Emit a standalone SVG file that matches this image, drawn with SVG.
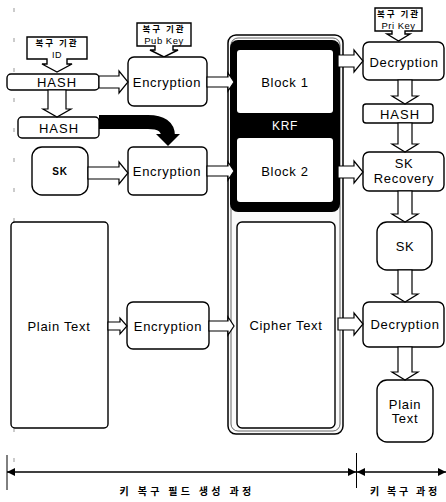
<svg xmlns="http://www.w3.org/2000/svg" width="446" height="502" viewBox="0 0 446 502">
<defs>
<style>
.box{fill:#fff;stroke:#000;stroke-width:1.4}
.arr{fill:#fff;stroke:#000;stroke-width:1.2;stroke-linejoin:miter}
.t{font-family:"Liberation Sans","DejaVu Sans",sans-serif;font-size:13px;fill:#000;text-anchor:middle;letter-spacing:0.7px}
.k{font-family:"Noto Sans CJK KR","Liberation Sans",sans-serif;font-size:8.5px;font-weight:bold;fill:#000;text-anchor:middle;letter-spacing:2px}
.s{font-family:"Liberation Sans","DejaVu Sans",sans-serif;font-size:9.5px;fill:#000;text-anchor:middle;letter-spacing:0.5px}
.kb{font-family:"Noto Sans CJK KR","Liberation Sans",sans-serif;font-size:10px;font-weight:bold;fill:#000;text-anchor:middle}
.dash{stroke:#999;stroke-width:1;stroke-dasharray:4 26;fill:none}
</style>
<marker id="ah" viewBox="0 0 10 10" refX="10" refY="5" markerWidth="8" markerHeight="8" markerUnits="userSpaceOnUse" orient="auto-start-reverse">
<path d="M0,0 L10,5 L0,10 Z" fill="#000"/>
</marker>
</defs>
<rect width="446" height="502" fill="#fff"/>

<!-- faint guide lines -->
<line class="dash" x1="14" y1="8" x2="14" y2="470"/>

<!-- KRF column -->
<g id="krf">
<rect x="228" y="35" width="115" height="399" rx="8" fill="#fafafa" stroke="#000" stroke-width="1.5"/>
<rect x="231" y="38" width="109" height="393" rx="7" fill="none" stroke="#444" stroke-width="0.8"/>
<rect x="230" y="40" width="110" height="172" rx="8" fill="#000"/>
<g id="block1"><rect x="237" y="50" width="96" height="63" rx="3" fill="#fff"/>
<text class="t" x="285" y="87">Block 1</text></g>
<text class="t" x="285" y="130" style="fill:#fff;font-size:12px">KRF</text>
<g id="block2"><rect x="237" y="138" width="96" height="64" rx="3" fill="#fff"/>
<text class="t" x="285" y="176">Block 2</text></g>
<g id="cipher"><rect class="box" x="237" y="222" width="98" height="206" rx="5" stroke-width="1.5"/>
<text class="t" x="286" y="330">Cipher Text</text></g>
</g>

<!-- callouts -->
<g id="callout-id">
<path class="box" d="M27,37 H87 V59 H67 V64 H72 L57,72 L42,64 H47 V59 H27 Z"/>
<text class="k" x="57" y="46">복구 기관</text>
<text class="s" x="57" y="57.5" style="font-size:9px">ID</text>
</g>
<g id="callout-pub">
<path class="box" d="M137,23 H191 V46 H173 V50 H178 L164,57 L150,50 H155 V46 H137 Z"/>
<text class="k" x="164" y="32">복구 기관</text>
<text class="s" x="164" y="44">Pub Key</text>
</g>
<g id="callout-pri">
<path class="box" d="M375,8 H422 V31 H405 V34 H410 L398.5,41 L387,34 H392 V31 H375 Z"/>
<text class="k" x="398.5" y="17">복구 기관</text>
<text class="s" x="398.5" y="29">Pri Key</text>
</g>

<!-- nodes -->
<g id="hash1"><rect class="box" x="7" y="74" width="92" height="16" rx="4"/>
<text class="t" x="57" y="86.5" style="letter-spacing:1px">HASH</text></g>
<g id="hash2"><rect class="box" x="18" y="117" width="81" height="21" rx="4"/>
<text class="t" x="59" y="132.5" style="letter-spacing:1px">HASH</text></g>
<g id="sk1"><rect class="box" x="32" y="147" width="56" height="48" rx="10"/>
<text class="t" x="60" y="175" style="font-size:10px;font-weight:bold">SK</text></g>
<g id="enc1"><rect class="box" x="128" y="57" width="79" height="49" rx="6"/>
<text class="t" x="167" y="86.5">Encryption</text></g>
<g id="enc2"><rect class="box" x="128" y="147" width="79" height="48" rx="5"/>
<text class="t" x="167" y="175.5">Encryption</text></g>
<g id="plain1"><rect class="box" x="11" y="222" width="97" height="206" rx="4"/>
<text class="t" x="59" y="330.5">Plain Text</text></g>
<g id="enc3"><rect class="box" x="127" y="302" width="82" height="47" rx="6"/>
<text class="t" x="168" y="330.5">Encryption</text></g>
<g id="dec1"><rect class="box" x="363" y="42" width="81" height="38" rx="6"/>
<text class="t" x="404" y="66.5">Decryption</text></g>
<g id="hash3"><rect class="box" x="363" y="104" width="70" height="19" rx="3"/>
<text class="t" x="400" y="118.5" style="letter-spacing:1px">HASH</text></g>
<g id="skrec"><rect class="box" x="363" y="152" width="81" height="39" rx="6"/>
<text class="t" x="404" y="168">SK</text>
<text class="t" x="404" y="183">Recovery</text></g>
<g id="sk2"><rect class="box" x="377" y="222" width="55" height="48" rx="10"/>
<text class="t" x="405" y="250.5">SK</text></g>
<g id="dec2"><rect class="box" x="363" y="302" width="81" height="45" rx="6"/>
<text class="t" x="405" y="329">Decryption</text></g>
<g id="plain2"><rect class="box" x="377" y="380" width="56" height="62" rx="10"/>
<text class="t" x="405" y="409">Plain</text>
<text class="t" x="405" y="423">Text</text></g>

<!-- connectors -->
<g id="connectors">
<path class="arr" d="M99,76 H119 V71 L128,82 L119,93 V88 H99 Z"/>
<path class="arr" d="M88,167 H119 V162 L128,173 L119,184 V179 H88 Z"/>
<path class="arr" d="M108,322 H120 V318 L127,326 L120,334 V330 H108 Z"/>
<path class="arr" d="M207,77 H228 V73 L234,82 L228,91 V87 H207 Z"/>
<path class="arr" d="M207,166 H228 V162 L234,171 L228,180 V176 H207 Z"/>
<path class="arr" d="M209,321 H228 V317 L234,326 L228,335 V331 H209 Z"/>
<path class="arr" d="M338,55 H354 V50 L363,61 L354,72 V67 H338 Z"/>
<path class="arr" d="M338,166 H354 V161 L363,172 L354,183 V178 H338 Z"/>
<path class="arr" d="M338,318 H354 V313 L363,324 L354,335 V330 H338 Z"/>
<path class="arr" d="M48,90 V109 H43 L57,117 L71,109 H66 V90 Z"/>
<path class="arr" d="M398,80 V96 H392 L405,104 L418,96 H412 V80 Z"/>
<path class="arr" d="M398,123 V144 H392 L405,152 L418,144 H412 V123 Z"/>
<path class="arr" d="M398,191 V214 H392 L405,222 L418,214 H412 V191 Z"/>
<path class="arr" d="M398,270 V294 H392 L405,302 L418,294 H412 V270 Z"/>
<path class="arr" d="M398,347 V372 H392 L405,380 L418,372 H412 V347 Z"/>
<path d="M99,122 H148 Q168,122 168,136" fill="none" stroke="#000" stroke-width="14"/>
<polygon points="156,134 180,134 168,146" fill="#000"/>
</g>

<!-- bottom scale -->
<g id="scale">
<line x1="7" y1="455" x2="7" y2="490" stroke="#000" stroke-width="1"/>
<line x1="356.5" y1="453" x2="356.5" y2="488" stroke="#000" stroke-width="1"/>
<line x1="7" y1="472" x2="356" y2="472" stroke="#000" stroke-width="1.5" marker-start="url(#ah)" marker-end="url(#ah)"/>
<line x1="357" y1="472" x2="446" y2="472" stroke="#000" stroke-width="1.5" marker-start="url(#ah)" marker-end="url(#ah)"/>
<text class="kb" x="187" y="495" style="letter-spacing:3.3px">키 복구 필드 생성 과정</text>
<text class="kb" x="405" y="495" style="letter-spacing:2.8px">키 복구 과정</text>
</g>
</svg>
